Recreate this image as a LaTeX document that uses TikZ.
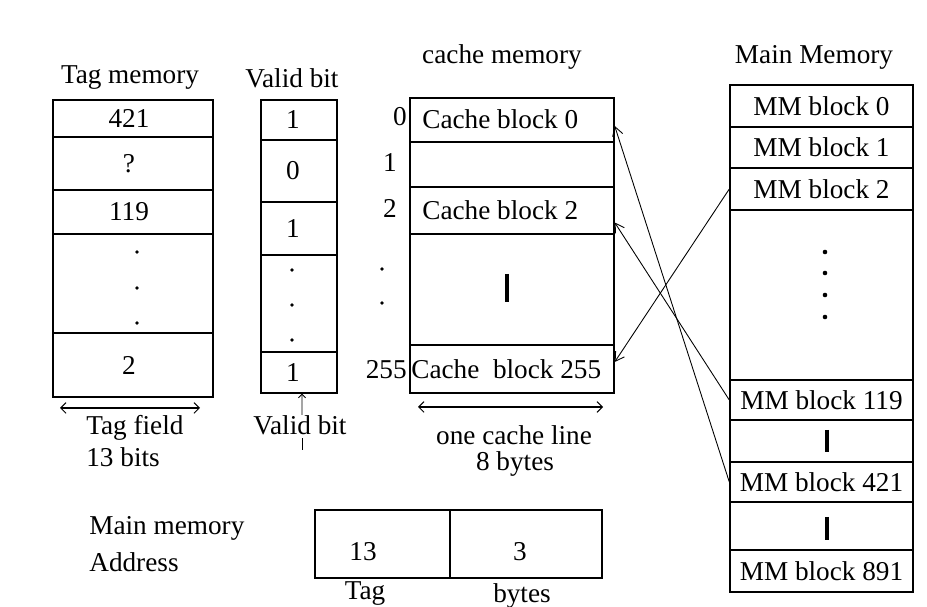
\documentclass[tikz,border=0pt]{standalone}
\usepackage{fontspec}
\setmainfont{Liberation Serif}
\usetikzlibrary{fit,arrows.meta}

\begin{document}
\begin{tikzpicture}[x=0.02cm, y=-0.02cm,
    cell/.style={draw, line width=0.8pt, inner sep=0pt},
    lbl/.style={font=\fontsize{15.5}{17}\selectfont, inner sep=0pt},
    link/.style={-{Straight Barb[length=5pt,width=6pt]}, line width=0.5pt},
    span/.style={{Straight Barb[length=3pt]}-{Straight Barb[length=3pt]}, line width=0.6pt},
    bar/.style={line width=2.4pt}]
    \useasboundingbox (0,0) rectangle (927,607);

    % Tag memory
    \node[lbl] (tagtitle) at (130,78) {Tag memory};
    \foreach \n/\ya/\yb/\t in {0/100/137/421, 1/137/190/?, 2/190/234/119, 3/234/333/{}, 4/333/397/2} {
        \node[cell, fit={(53,\ya) (213,\yb)}] (tag\n) {};
        \node[lbl] (tagtxt\n) at ([xshift=-0.08cm]tag\n.center) {\t};
    }
    \foreach \y in {252,288,323}
        \fill (137,\y) circle (1.1pt);
    \draw[span] (60,408) -- (200,408);
    \node[lbl, anchor=west] (tagfield) at (86,428) {Tag field};
    \node[lbl, anchor=west] (tagbits) at (86,457) {13 bits};

    % Valid bit
    \node[lbl] (validtitle) at (292,78) {Valid bit};
    \foreach \n/\ya/\yb/\t in {0/100/140/1, 1/140/202/0, 2/202/255/1, 3/255/352/{}, 4/352/393/1} {
        \node[cell, fit={(261,\ya) (337,\yb)}] (valid\n) {};
        \node[lbl] (validtxt\n) at ([xshift=-0.12cm]valid\n.center) {\t};
    }
    \foreach \y in {270,305,340}
        \fill (292,\y) circle (1.1pt);
    \node[lbl] (validtext) at (300,425) {Valid bit};
    \draw[-{Straight Barb[length=2pt]}, line width=0.5pt] ([xshift=0.04cm]validtext.north) -- ([xshift=0.06cm]valid4.south);
    \draw[line width=0.5pt] ([xshift=0.04cm,yshift=-0.06cm]validtext.south) -- ++(0,12);

    % Cache memory
    \node[lbl] (cachetitle) at (502,57) {cache memory};
    \foreach \n/\ya/\yb in {0/98/142, 1/142/187, 2/187/234, 3/234/345, 4/345/393}
        \node[cell, fit={(410,\ya) (614,\yb)}] (cache\n) {};
    \node[lbl, anchor=west] (cb0) at (422,119) {Cache block 0};
    \node[lbl, anchor=west] (cb2) at (422,210) {Cache block 2};
    \node[lbl, anchor=west] (cb255) at (411,369) {Cache\ \ block 255};
    \draw[bar] (507,274) -- (507,302);
    \node[lbl, anchor=east] (idx0) at (407,117) {0};
    \node[lbl] (idx1) at (390,163) {1};
    \node[lbl] (idx2) at (390,208) {2};
    \node[lbl, anchor=east] (idx255) at (407,370) {255};
    \foreach \y in {269,303}
        \fill (382,\y) circle (1.1pt);
    \draw[span] (418,407) -- (603,407);
    \node[lbl] (cacheline) at (514,435) {one cache line};
    \node[lbl] (cachebytes) at (515,464) {8 bytes};

    % Main memory
    \node[lbl] (mmtitle) at (814,57) {Main Memory};
    \foreach \n/\ya/\yb/\t in {0/85/127/{MM block 0}, 1/127/168/{MM block 1}, 2/168/210/{MM block 2},
                               3/210/380/{}, 119/380/420/{MM block 119}, 5/420/462/{},
                               421/462/502/{MM block 421}, 7/502/550/{}, 891/550/592/{MM block 891}} {
        \node[cell, fit={(730,\ya) (913,\yb)}] (mm\n) {};
        \node[lbl] (mmtxt\n) at (mm\n.center) {\t};
    }
    \foreach \y in {252,273,295,317}
        \fill (825,\y) circle (1.3pt);
    \draw[bar] (827,430) -- (827,452);
    \draw[bar] (827,517) -- (827,540);

    % Mapping
    \draw[link] (mm2.west) -- ([yshift=0.14cm]cache4.east);
    \draw[link] (mm119.west) -- ([yshift=-0.24cm]cache2.east);
    \draw[link] (mm421.west) -- ([yshift=-0.12cm]cache0.east);

    % Main memory address
    \node[lbl, anchor=west] (addr1) at (89,528) {Main memory};
    \node[lbl, anchor=west] (addr2) at (89,562) {Address};
    \node[cell, fit={(315,510) (450,578)}] (addrtag) {};
    \node[cell, fit={(450,510) (602,578)}] (addrbyte) {};
    \node[lbl] (n13) at (363,552) {13};
    \node[lbl] (n3) at (520,552) {3};
    \node[lbl] (tagname) at (365,594) {Tag};
    \node[lbl] (bytename) at (522,596) {bytes};
\end{tikzpicture}
\end{document}
